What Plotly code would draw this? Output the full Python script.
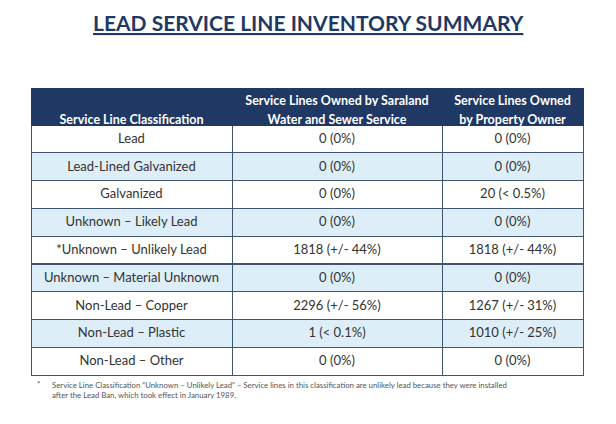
import plotly.graph_objects as go

classification = ["Lead", "Lead-Lined Galvanized", "Galvanized", "Unknown \u2013 Likely Lead",
                  "*Unknown \u2013 Unlikely Lead", "Unknown \u2013 Material Unknown",
                  "Non-Lead \u2013 Copper", "Non-Lead \u2013 Plastic", "Non-Lead \u2013 Other"]
utility_owned = ["0 (0%)", "0 (0%)", "0 (0%)", "0 (0%)", "1818 (+/- 44%)", "0 (0%)",
                 "2296 (+/- 56%)", "1 (\u02c2 0.1%)", "0 (0%)"]
owner_owned = ["0 (0%)", "0 (0%)", "20 (\u02c2 0.5%)", "0 (0%)", "1818 (+/- 44%)", "0 (0%)",
               "1267 (+/- 31%)", "1010 (+/- 25%)", "0 (0%)"]
# two header lines per column
headers = [["", "Service Line Classification"],
           ["Service Lines Owned by Saraland", "Water and Sewer Service"],
           ["Service Lines Owned", "by Property Owner"]]

navy = "#1F3864"
stripe = ["#FFFFFF" if i % 2 == 0 else "#DDEEF8" for i in range(len(classification))]

fig = go.Figure(go.Table(
    domain=dict(x=[31/616, 583/616], y=[1-376/424, 1-88/424]),
    columnwidth=[201, 210, 141],
    header=dict(values=headers,
                fill_color=navy, line=dict(color=navy, width=1),
                font=dict(family="Lato, Open Sans, sans-serif", size=12.5, color="white",
                          weight="bold"),
                align="center", height=18.5),
    cells=dict(values=[classification, utility_owned, owner_owned],
               fill_color=[stripe, stripe, stripe],
               line=dict(color="#3E5570", width=1),
               font=dict(family="Lato, Open Sans, sans-serif", size=13, color="#333333"),
               align="center", height=27.8),
))

fig.add_annotation(text="<b><u>LEAD SERVICE LINE INVENTORY SUMMARY</u></b>",
                   x=0.5, y=1-22/424, xref="paper", yref="paper", showarrow=False,
                   yanchor="middle",
                   font=dict(family="Lato, Open Sans, sans-serif", size=21, color=navy))
fig.add_annotation(text="*", x=35/616, y=1-384/424, xref="paper", yref="paper",
                   showarrow=False, xanchor="left", yanchor="middle",
                   font=dict(family="Lato, sans-serif", size=8, color="#555555"))
fig.add_annotation(text="Service Line Classification \u201cUnknown \u2013 Unlikely Lead\u201d \u2013 Service lines in this classification are unlikely lead because they were installed<br>after the Lead Ban, which took effect in January 1989.",
                   x=50/616, y=1-390/424, xref="paper", yref="paper", showarrow=False,
                   xanchor="left", yanchor="middle", align="left",
                   font=dict(family="Lato, sans-serif", size=7.8, color="#555555"))

fig.update_layout(width=616, height=424, margin=dict(l=0, r=0, t=0, b=0),
                  paper_bgcolor="white", plot_bgcolor="white")
fig.write_html("out.html", config={"displayModeBar": False},
               post_script="document.body.style.margin='0';")
